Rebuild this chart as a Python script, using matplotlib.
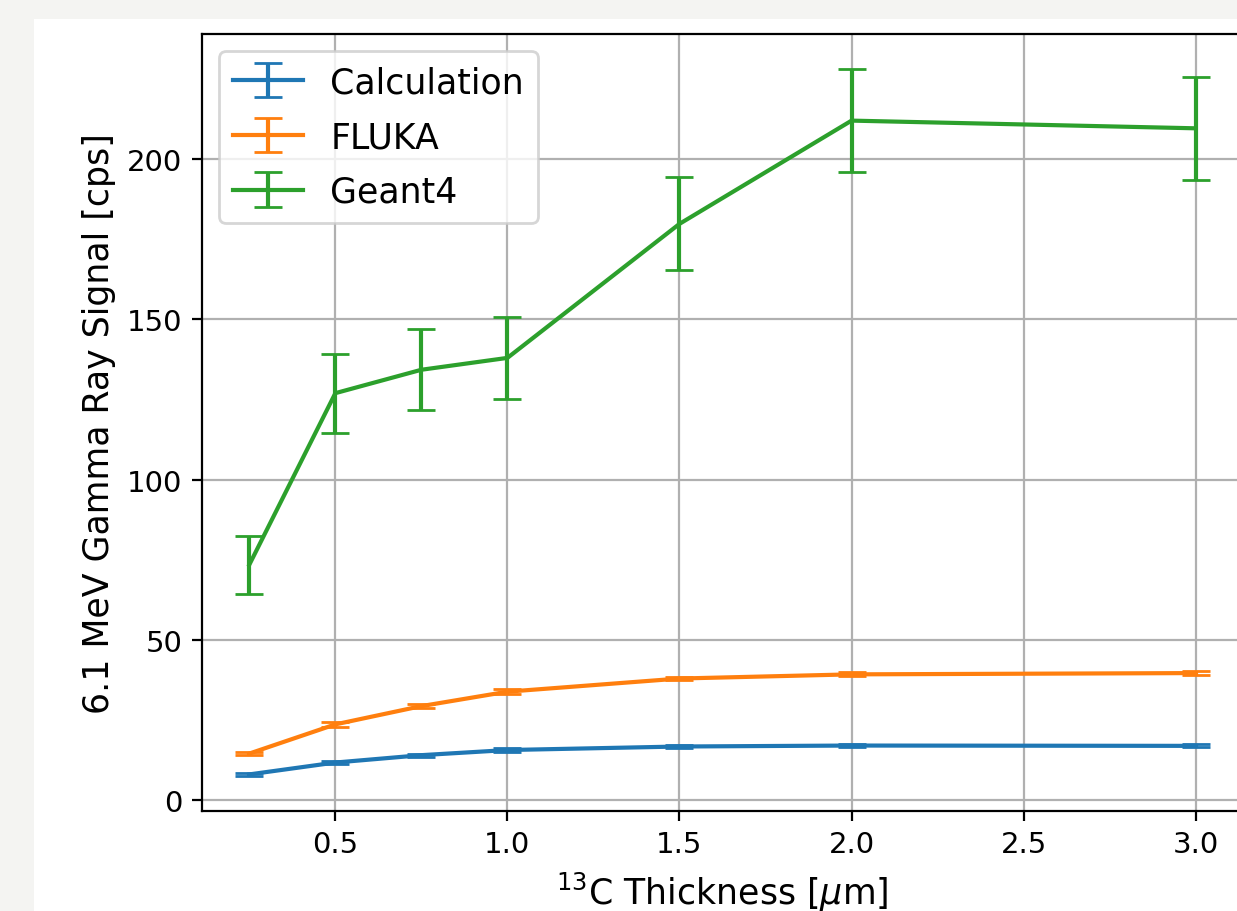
"""6.1 MeV gamma ray signal vs 13C thickness: calculation, FLUKA and Geant4."""
import matplotlib
matplotlib.use("Agg")
import matplotlib.pyplot as plt
from matplotlib.patches import Rectangle

thickness = [0.25, 0.5, 0.75, 1.0, 1.5, 2.0, 3.0]

calc = [8.1, 11.8, 14.1, 15.7, 16.8, 17.1, 17.0]
calc_err = [0.4, 0.5, 0.5, 0.5, 0.5, 0.5, 0.5]

fluka = [14.6, 23.7, 29.4, 33.9, 38.0, 39.3, 39.7]
fluka_err = [0.6, 0.7, 0.7, 0.7, 0.6, 0.6, 0.6]

geant4 = [73.5, 127.0, 134.3, 138.0, 179.8, 212.0, 209.6]
geant4_err = [9.0, 12.3, 12.6, 12.8, 14.5, 16.0, 16.0]

W, H = 1237, 912
fig = plt.figure(figsize=(W / 200, H / 200), dpi=200, facecolor="#f4f4f2")
# white figure area inside the slide-like background
fig.patches.append(Rectangle((34 / W, 0), 1, (H - 20) / H, transform=fig.transFigure,
                             facecolor="white", edgecolor="none", zorder=-10))

ax = fig.add_axes([202 / W, (H - 812) / H, (1243 - 202) / W, (812 - 35) / H])
ax.set_zorder(5)
ax.errorbar(thickness, calc, yerr=calc_err, capsize=5, label="Calculation")
ax.errorbar(thickness, fluka, yerr=fluka_err, capsize=5, label="FLUKA")
ax.errorbar(thickness, geant4, yerr=geant4_err, capsize=5, label="Geant4")

ax.set_xlabel(r"$^{13}$C Thickness [$\mu$m]", fontsize=12.5)
ax.set_ylabel("6.1 MeV Gamma Ray Signal [cps]", fontsize=12.5)
ax.tick_params(labelsize=10.5)
ax.grid(True)
ax.legend(loc="upper left", fontsize=12.5, labelspacing=0.6, borderpad=0.4)

fig.savefig("out.png", dpi=200, facecolor=fig.get_facecolor())
